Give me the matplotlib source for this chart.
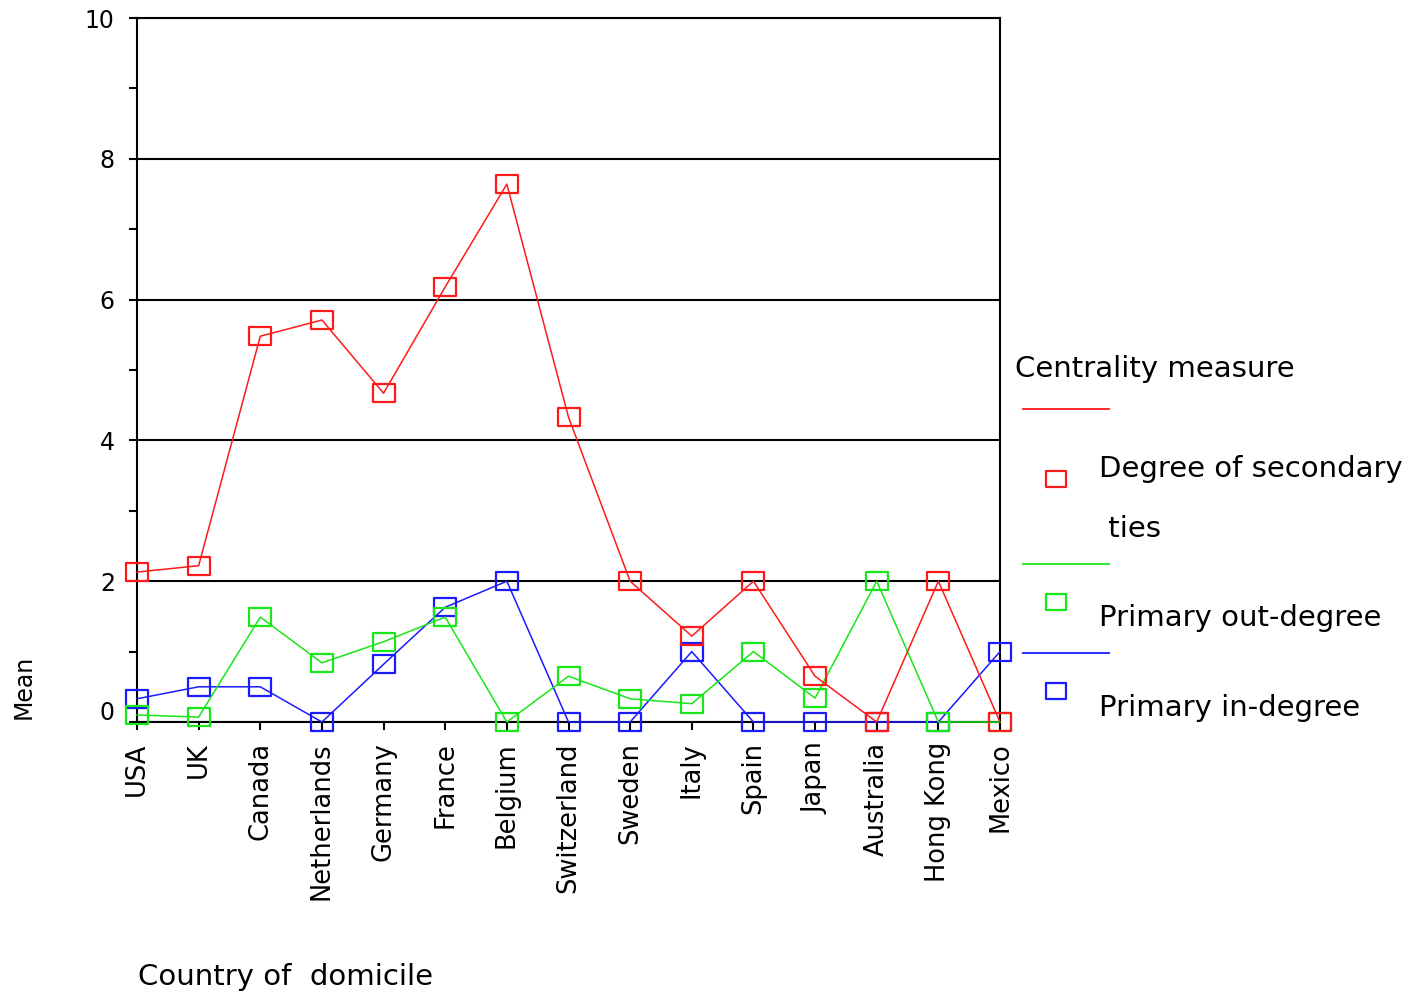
import numpy as np
import matplotlib
matplotlib.use("Agg")
import matplotlib.pyplot as plt
from matplotlib.path import Path
import matplotlib.transforms as mtransforms

countries = ["USA", "UK", "Canada", "Netherlands", "Germany", "France", "Belgium",
             "Switzerland", "Sweden", "Italy", "Spain", "Japan", "Australia",
             "Hong Kong", "Mexico"]
secondary_ties = [2.13, 2.22, 5.48, 5.71, 4.67, 6.18, 7.64, 4.33, 2.0, 1.22, 2.0, 0.65, 0.0, 2.0, 0.0]
out_degree = [0.10, 0.07, 1.49, 0.84, 1.14, 1.49, 0.0, 0.65, 0.33, 0.26, 1.0, 0.34, 2.0, 0.0, 0.0]
in_degree = [0.33, 0.50, 0.50, 0.0, 0.82, 1.63, 2.0, 0.0, 0.0, 1.0, 0.0, 0.0, 0.0, 0.0, 1.0]
series_names = ["Degree of secondary\n ties", "Primary out-degree", "Primary in-degree"]
legend_title = "Centrality measure"
y_ticks = [0, 2, 4, 6, 8, 10]
x_label = "Country of  domicile"
y_label = "Mean"

RED, GREEN, BLUE = "#ff1a1a", "#19e619", "#1a1aff"

W, H = 1422, 992
fig = plt.figure(figsize=(W / 100, H / 100), dpi=100)
ax = fig.add_axes([137 / W, 1 - 722 / H, (1000 - 137) / W, (722 - 18) / H])

rect = Path([(-1.2, -1), (1.2, -1), (1.2, 1), (-1.2, 1), (-1.2, -1)],
            [Path.MOVETO, Path.LINETO, Path.LINETO, Path.LINETO, Path.CLOSEPOLY])

x = np.arange(len(countries))
for vals, col in [(in_degree, BLUE), (out_degree, GREEN), (secondary_ties, RED)]:
    ax.plot(x, vals, color=col, lw=1.1, marker=rect, markersize=15.5,
            markerfacecolor="none", markeredgecolor=col, markeredgewidth=1.6,
            clip_on=False, zorder=3)

ax.set_xlim(0, len(countries) - 1)
ax.set_ylim(0, 10)
ax.set_xticks(x)
ax.set_xticklabels(countries, rotation=90, fontsize=18.5)
ax.set_yticks(y_ticks)
ax.set_yticklabels([str(t) for t in y_ticks], fontsize=17)
ax.set_yticks([1, 3, 5, 7, 9], minor=True)
ax.tick_params(axis="both", which="both", direction="out", length=6, width=1.5, color="black")
ax.tick_params(axis="y", which="major", pad=10)
ax.tick_params(axis="x", which="major", pad=8.5)
ax.grid(axis="y", which="major", color="black", lw=1.5, zorder=1)
for s in ax.spines.values():
    s.set_linewidth(1.5)
    s.set_color("black")
ax.set_axisbelow(True)

# shift the "0" label upward as in reference
offset = mtransforms.ScaledTranslation(0, 12 / 100, fig.dpi_scale_trans)
for lbl in ax.get_yticklabels():
    if lbl.get_text() == "0":
        lbl.set_transform(lbl.get_transform() + offset)

# overlay in pixel coordinates for legend and axis titles
lax = fig.add_axes([0, 0, 1, 1], zorder=5)
lax.set_xlim(0, W)
lax.set_ylim(H, 0)
lax.axis("off")

lax.text(1015, 377, legend_title, fontsize=21, ha="left", va="baseline")
line_y = [409, 564, 653]
sq_y = [479, 602, 691]
base_y = [477, 626, 716]
for name, col, ly, sy, by in zip(series_names, [RED, GREEN, BLUE], line_y, sq_y, base_y):
    lax.plot([1023, 1109], [ly, ly], color=col, lw=1.3)
    lax.plot([1056], [sy], marker=rect, markersize=14, markerfacecolor="none",
             markeredgecolor=col, markeredgewidth=1.6)
    for k, part in enumerate(name.split("\n")):
        lax.text(1099, by + 60 * k, part, fontsize=21, ha="left", va="baseline")

lax.text(138, 985, x_label, fontsize=21, ha="left", va="baseline")
lax.text(24, 687, y_label, fontsize=17, rotation=90, ha="center", va="center")

fig.savefig("out.png", dpi=100)
